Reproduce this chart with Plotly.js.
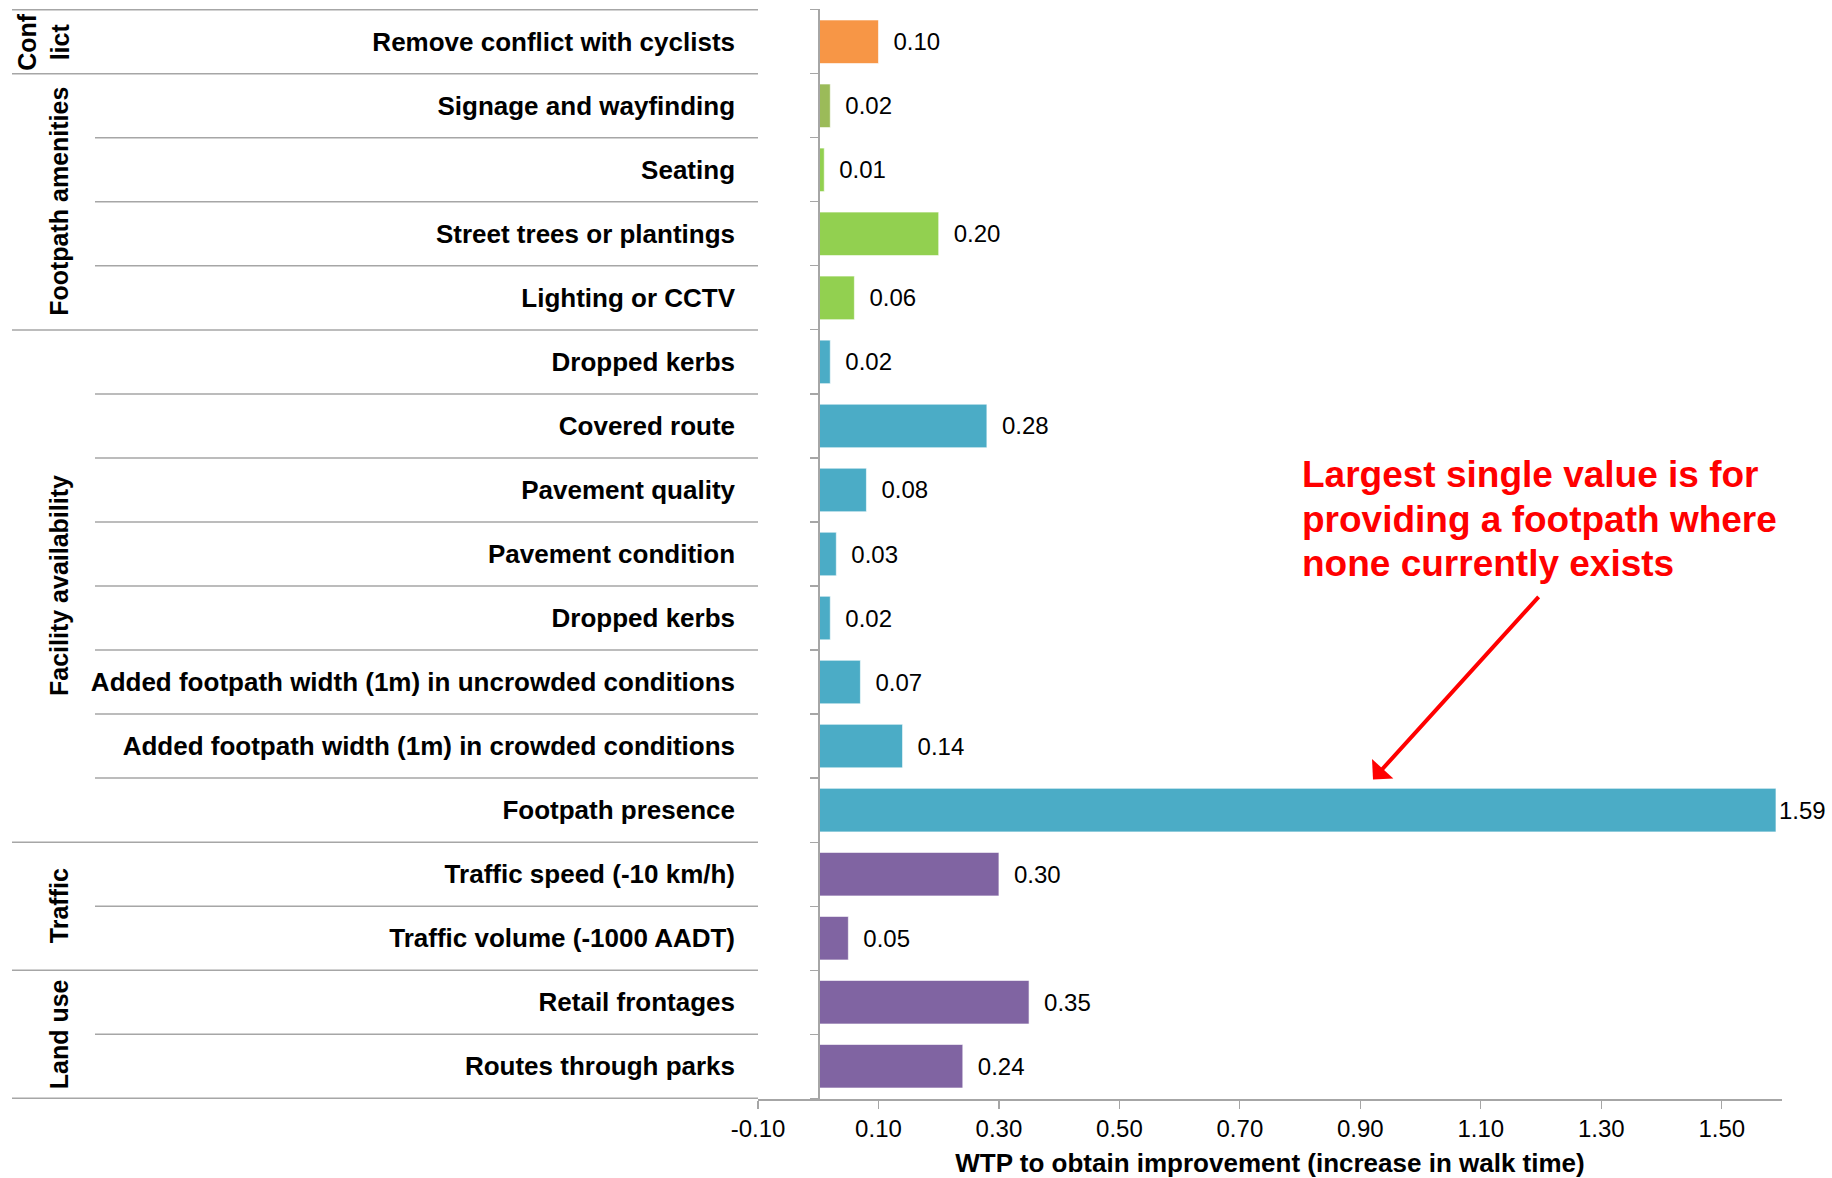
<!DOCTYPE html>
<html>
<head>
<meta charset="utf-8">
<script src="https://cdn.plot.ly/plotly-3.0.1.min.js"></script>
<style>html,body{margin:0;padding:0;background:#fff;}#chart{width:1832px;height:1178px;}</style>
</head>
<body>
<div id="chart"></div>
<script>
// ---- data ----
const categories = [
  "Remove conflict with cyclists",
  "Signage and wayfinding",
  "Seating",
  "Street trees or plantings",
  "Lighting or CCTV",
  "Dropped kerbs",
  "Covered route",
  "Pavement quality",
  "Pavement condition",
  "Dropped kerbs",
  "Added footpath width (1m) in uncrowded conditions",
  "Added footpath width (1m) in crowded conditions",
  "Footpath presence",
  "Traffic speed (-10 km/h)",
  "Traffic volume (-1000 AADT)",
  "Retail frontages",
  "Routes through parks"
];
const values = [0.10, 0.02, 0.01, 0.20, 0.06, 0.02, 0.28, 0.08, 0.03, 0.02, 0.07, 0.14, 1.59, 0.30, 0.05, 0.35, 0.24];
const groupNames = ["Conf<br>lict", "Footpath amenities", "Facility availability", "Traffic", "Land use"];
const groupSizes = [1, 4, 8, 2, 2];
const xTickValues = [-0.10, 0.10, 0.30, 0.50, 0.70, 0.90, 1.10, 1.30, 1.50];
const xTitle = "WTP to obtain improvement (increase in walk time)";
const noteLines = ["Largest single value is for", "providing a footpath where", "none currently exists"];

// ---- styles ----
const barColors = ["#F79646", "#9BBB59", "#92D050", "#92D050", "#92D050",
  "#4BACC6", "#4BACC6", "#4BACC6", "#4BACC6", "#4BACC6", "#4BACC6", "#4BACC6", "#4BACC6",
  "#8064A2", "#8064A2", "#8064A2", "#8064A2"];
const FONT = 'Arial, "Liberation Sans", sans-serif';
const GRID = "#A6A6A6";
const xRange = [-0.1, 1.6];
const plotLeft = 758, plotRight = 1782;
const plotW = plotRight - plotLeft;
const outerX = (12 - plotLeft) / plotW;
const innerX = (95 - plotLeft) / plotW;
const zeroPos = (0 - xRange[0]) / (xRange[1] - xRange[0]);

const idx = categories.map((_, i) => i);
const n = categories.length;

const trace = {
  type: "bar",
  orientation: "h",
  y: idx,
  x: values,
  width: 0.68,
  marker: { color: barColors, line: { color: "rgba(255,255,255,0.6)", width: 1 } },
  texttemplate: values.map(v => (v > 1 ? "%{x:.2f}" : "\u2002%{x:.2f}")),
  textposition: "outside",
  cliponaxis: false,
  textfont: { family: FONT, size: 24, color: "#000" },
  hoverinfo: "skip"
};

// separator lines
const shapes = [];
let start = 0;
const groupStarts = [];
groupSizes.forEach(s => { groupStarts.push(start); start += s; });
for (let b = 0; b <= n; b++) {
  const isGroup = groupStarts.includes(b) || b === n;
  shapes.push({
    type: "line", xref: "paper", yref: "y",
    x0: isGroup ? outerX : innerX, x1: 0,
    y0: b - 0.5, y1: b - 0.5,
    line: { color: GRID, width: 1.5 }
  });
}

const annotations = [];
groupNames.forEach((g, k) => {
  const center = groupStarts[k] + (groupSizes[k] - 1) / 2;
  const multi = g.includes("<br>");
  annotations.push({
    xref: "paper", yref: "y",
    x: ((multi ? 44 : 59) - plotLeft) / plotW, y: center,
    text: "<b>" + g + "</b>", showarrow: false, textangle: -90,
    xanchor: "center", yanchor: "middle",
    font: { family: FONT, size: 25, color: "#000" }
  });
});
noteLines.forEach((line, k) => {
  annotations.push({
    xref: "x", yref: "y", x: 0.800, y: 6.76 + k * 0.697,
    text: "<b>" + line + "</b>", showarrow: false, align: "left",
    xanchor: "left", yanchor: "middle",
    font: { family: FONT, size: 37, color: "#FF0000" }
  });
});
annotations.push({
    xref: "x", yref: "y", x: 0.921, y: 11.52, text: "",
    showarrow: true, ax: 167, ay: -184,
    arrowhead: 1, arrowsize: 1.2, arrowwidth: 4, arrowcolor: "#FF0000"
});

const layout = {
  width: 1832, height: 1178,
  margin: { l: plotLeft, r: 1832 - plotRight, t: 9, b: 79, pad: 0 },
  paper_bgcolor: "#fff", plot_bgcolor: "#fff",
  showlegend: false,
  font: { family: FONT, color: "#000" },
  xaxis: {
    range: xRange, tickmode: "array", tickvals: xTickValues,
    ticktext: xTickValues.map(v => v.toFixed(2)),
    showgrid: false, zeroline: false,
    showline: true, linecolor: GRID, linewidth: 1.5,
    ticks: "outside", ticklen: 8, tickcolor: GRID, tickwidth: 1.2,
    tickfont: { family: FONT, size: 24, color: "#000" },
    title: { text: "<b>" + xTitle + "</b>", font: { family: FONT, size: 26, color: "#000" }, standoff: 14 }
  },
  yaxis: {
    type: "category", autorange: "reversed",
    anchor: "free", position: zeroPos, side: "left",
    tickmode: "array", tickvals: idx, ticktext: categories.map(c => "<b>" + c + "</b>"),
    tickson: "boundaries", ticks: "outside", ticklen: 8, tickcolor: GRID, tickwidth: 1.2,
    showline: true, linecolor: GRID, linewidth: 1.5,
    showgrid: false, zeroline: false,
    ticklabelstandoff: 78,
    tickfont: { family: FONT, size: 26, color: "#000" }
  },
  shapes: shapes,
  annotations: annotations
};

Plotly.newPlot("chart", [trace], layout, { displayModeBar: false, staticPlot: true });
</script>
</body>
</html>
